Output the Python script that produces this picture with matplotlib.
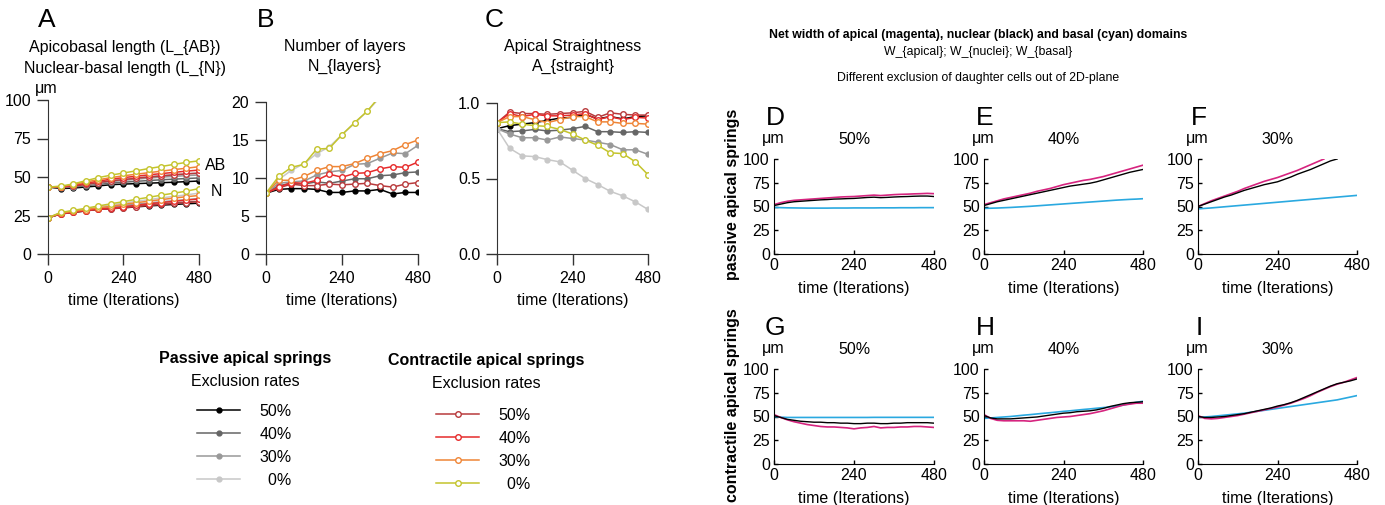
import matplotlib
matplotlib.use("Agg")
import matplotlib.pyplot as plt
from matplotlib.lines import Line2D

plt.rcParams['font.family'] = ['Liberation Sans', 'DejaVu Sans']

W, H = 1385, 505

# ---------------- data: panels A-C (sampled every 40 iterations) ----------------
t = [0, 40, 80, 120, 160, 200, 240, 280, 320, 360, 400, 440, 480]
rates = ['50%', '40%', '30%', '  0%']

passive_colors = ['#000000', '#666666', '#999999', '#c8c8c8']
contract_colors = ['#b83a3c', '#e62b2b', '#ef8536', '#c4c42c']

# apicobasal length L_AB
ab_passive = [
    [43.5, 42.5, 42.8, 43.5, 44.2, 45.0, 45.4, 45.7, 46.0, 46.3, 46.6, 47.0, 47.4],
    [43.5, 43.0, 43.5, 44.3, 45.2, 46.0, 46.6, 47.2, 47.7, 48.2, 48.6, 49.0, 49.4],
    [43.5, 43.2, 43.8, 45.0, 46.0, 47.0, 47.8, 48.6, 49.3, 49.9, 50.4, 50.9, 51.3],
    [43.5, 43.5, 44.3, 45.5, 46.6, 47.8, 48.7, 49.5, 50.3, 51.0, 51.6, 52.2, 52.7],
]
ab_contract = [
    [43.5, 43.3, 44.0, 45.2, 46.4, 47.5, 48.3, 49.2, 50.0, 50.7, 51.4, 52.0, 52.5],
    [43.5, 43.5, 44.5, 46.0, 47.3, 48.6, 49.6, 50.5, 51.4, 52.2, 53.0, 53.8, 54.5],
    [43.5, 43.8, 45.0, 46.8, 48.2, 49.6, 50.8, 51.8, 52.8, 53.8, 54.8, 55.7, 56.7],
    [43.5, 44.0, 45.5, 47.6, 49.6, 51.2, 52.6, 54.0, 55.5, 56.8, 58.2, 59.5, 60.5],
]
# nuclear-basal length L_N
n_passive = [
    [23.5, 26.0, 27.0, 28.0, 29.0, 29.5, 30.0, 30.6, 31.2, 31.7, 32.2, 32.6, 33.0],
    [23.5, 26.2, 27.3, 28.3, 29.3, 30.0, 30.7, 31.4, 32.0, 32.6, 33.2, 33.7, 34.2],
    [23.5, 26.4, 27.6, 28.6, 29.7, 30.6, 31.5, 32.3, 33.1, 33.9, 34.6, 35.3, 36.0],
    [23.5, 26.8, 28.0, 29.2, 30.6, 31.8, 33.0, 34.2, 35.3, 36.4, 37.4, 38.4, 39.5],
]
n_contract = [
    [23.5, 26.0, 27.0, 28.0, 29.0, 29.3, 30.0, 30.8, 31.5, 32.2, 32.8, 33.4, 34.0],
    [23.5, 26.2, 27.2, 28.2, 29.2, 29.8, 30.6, 31.6, 32.6, 33.4, 34.2, 35.0, 35.7],
    [23.5, 26.5, 27.7, 28.8, 30.0, 31.0, 32.2, 33.3, 34.3, 35.3, 36.3, 37.2, 38.0],
    [23.5, 27.0, 28.3, 29.7, 31.2, 32.6, 34.0, 35.5, 36.8, 38.2, 39.5, 40.8, 42.5],
]
# number of layers
layers_passive = [
    [8.0, 8.5, 8.6, 8.6, 8.5, 8.1, 8.1, 8.3, 8.3, 8.5, 7.9, 8.1, 8.1],
    [8.0, 9.0, 9.3, 9.2, 9.5, 9.3, 9.6, 9.9, 9.9, 10.3, 10.4, 10.7, 10.8],
    [8.0, 9.3, 9.5, 9.6, 10.4, 10.8, 11.0, 11.8, 11.9, 12.6, 13.3, 13.2, 14.3],
    [8.0, 9.8, 11.0, 11.9, 13.2, 14.1, 15.7, 17.2, 18.8, 20.6, 22.2, 23.8, 25.3],
]
layers_contract = [
    [8.0, 8.7, 9.2, 9.0, 9.0, 9.2, 9.1, 9.2, 9.3, 9.0, 8.8, 9.2, 9.4],
    [8.0, 8.8, 9.4, 9.3, 9.7, 10.5, 10.1, 10.6, 10.7, 11.2, 11.5, 11.4, 12.1],
    [8.0, 9.7, 9.7, 10.2, 11.0, 11.5, 11.5, 11.9, 12.6, 13.2, 13.6, 14.4, 15.0],
    [8.0, 10.2, 11.4, 11.8, 13.8, 13.9, 15.7, 17.3, 18.8, 20.8, 22.5, 24.0, 25.5],
]
# apical straightness
straight_passive = [
    [0.83, 0.85, 0.86, 0.87, 0.885, 0.90, 0.905, 0.925, 0.895, 0.91, 0.895, 0.91, 0.915],
    [0.83, 0.81, 0.815, 0.825, 0.815, 0.82, 0.83, 0.845, 0.81, 0.81, 0.805, 0.81, 0.805],
    [0.83, 0.795, 0.77, 0.77, 0.755, 0.775, 0.765, 0.755, 0.74, 0.725, 0.69, 0.69, 0.66],
    [0.83, 0.70, 0.65, 0.645, 0.625, 0.61, 0.555, 0.50, 0.46, 0.415, 0.385, 0.345, 0.295],
]
straight_contract = [
    [0.87, 0.94, 0.93, 0.93, 0.925, 0.93, 0.935, 0.945, 0.905, 0.935, 0.925, 0.92, 0.92],
    [0.87, 0.93, 0.91, 0.925, 0.915, 0.915, 0.92, 0.93, 0.89, 0.91, 0.89, 0.905, 0.90],
    [0.87, 0.91, 0.91, 0.89, 0.87, 0.89, 0.91, 0.91, 0.875, 0.875, 0.865, 0.865, 0.86],
    [0.87, 0.875, 0.86, 0.85, 0.845, 0.825, 0.795, 0.755, 0.72, 0.67, 0.665, 0.61, 0.525],
]

# ---------------- data: panels D-I (sampled every 20 iterations) ----------------
t_fine = list(range(0, 481, 20))
width_colors = {'apical': '#d6247f', 'nuclei': '#000000', 'basal': '#2aa9e0'}

D_apical = [52, 54, 55.5, 56.5, 57, 57.5, 58, 58.5, 59, 59.5, 60, 60.3, 60.5, 61, 61.5, 62, 61.5, 62, 62.5, 62.8, 63, 63.3, 63.5, 63.8, 63.5]
D_nuclei = [51, 52.5, 54, 55, 55.5, 56, 56.5, 57, 57.3, 57.8, 58, 58.3, 58.5, 59, 59.5, 59.8, 59.3, 59.6, 60, 60.3, 60.5, 60.8, 61, 61, 60.5]
D_basal = [49, 48.8, 48.6, 48.5, 48.4, 48.3, 48.3, 48.3, 48.3, 48.4, 48.4, 48.4, 48.5, 48.5, 48.5, 48.5, 48.6, 48.6, 48.6, 48.7, 48.7, 48.7, 48.8, 48.8, 48.8]

E_apical = [52, 54, 56, 58, 59.5, 61, 62.5, 64, 66, 67.5, 69, 71, 73, 74.5, 76, 77.5, 78.5, 80, 81.5, 83.5, 85.5, 87.5, 89.5, 91.5, 93.5]
E_nuclei = [51, 53, 55, 56.5, 58, 59.5, 61, 62.5, 64, 65.5, 67, 68.5, 70, 71.5, 72.5, 73.5, 74.5, 76, 78, 80, 82, 84, 86, 87.5, 89]
E_basal = [48, 48.2, 48.4, 48.7, 49, 49.4, 49.8, 50.2, 50.7, 51.2, 51.7, 52.2, 52.7, 53.2, 53.7, 54.2, 54.7, 55.2, 55.7, 56.2, 56.7, 57.1, 57.5, 57.8, 58.2]

F_apical = [50, 53, 56, 58.5, 61, 63.5, 66, 69, 71.5, 74, 76.5, 78.5, 80.5, 83, 85.5, 88, 91, 94, 97, 100]
F_nuclei = [50, 52.5, 55, 57.5, 60, 62, 64.5, 67, 69, 71, 73, 74.5, 76, 78.5, 81, 84, 86.5, 89, 92, 95, 98, 100]
F_basal = [47.5, 48, 48.5, 49.1, 49.7, 50.3, 50.9, 51.5, 52.1, 52.7, 53.3, 53.9, 54.5, 55.1, 55.7, 56.3, 56.9, 57.5, 58.1, 58.7, 59.3, 59.9, 60.5, 61.1, 61.7]

G_apical = [52, 49, 46.5, 44.5, 43, 41.5, 40.5, 39.5, 39, 39, 38.5, 38, 37, 38, 38.5, 39.5, 38, 38.5, 38.5, 39, 39, 39.5, 39.5, 39, 38.5]
G_nuclei = [51, 49, 47, 46, 45, 44.5, 44, 44, 43.5, 43.5, 43, 43, 42.5, 42.5, 43, 43, 42.5, 42.5, 43, 43, 43.5, 43.5, 43.5, 43.5, 43]
G_basal = [50, 49.3, 49, 49, 49, 49, 49, 49, 49, 49, 49, 49, 49, 49, 49, 49.1, 49.1, 49.1, 49.1, 49.1, 49.1, 49.1, 49.1, 49.1, 49.1]

H_apical = [52, 48, 46, 45.5, 45.5, 45.5, 45.5, 45, 46, 47, 48, 49, 49.5, 50, 51, 52, 53, 54.5, 56, 58, 60, 62, 63, 64, 64]
H_nuclei = [51, 48.5, 47.5, 47.5, 47.5, 48, 48.5, 49, 49.5, 50.5, 51.5, 52.5, 53.5, 54, 55, 55.5, 56, 57, 58.5, 60.5, 62, 63.5, 64.5, 65, 65.5]
H_basal = [48, 48.5, 49, 49.5, 50, 50.7, 51.4, 52, 52.7, 53.4, 54, 54.7, 55.4, 56, 56.7, 57.4, 58, 58.7, 59.4, 60, 61, 62, 63.5, 65, 66]

I_apical = [51, 48, 47.5, 48, 49, 50, 51, 52.5, 54, 55.5, 57, 58.5, 60, 62, 64, 66.5, 69, 72, 75.5, 78.5, 81.5, 84, 86, 88.5, 91]
I_nuclei = [50, 49, 49, 49.5, 50, 51, 52, 53, 54.5, 56, 57.5, 59, 61, 62.5, 64.5, 67, 70, 73, 76, 79, 82, 84.5, 86, 87.5, 89.5]
I_basal = [49, 49.5, 50, 50.7, 51.4, 52.1, 52.8, 53.5, 54.5, 55.5, 56.5, 57.5, 58.5, 59.5, 60.5, 61.5, 62.5, 63.5, 64.5, 65.5, 66.5, 67.5, 69, 70.5, 72]


def box(x0, y0, x1, y1):
    return [x0 / W, 1 - y1 / H, (x1 - x0) / W, (y1 - y0) / H]


def ftext(x, y, s, **kw):
    kw.setdefault('ha', 'center')
    kw.setdefault('va', 'center')
    fig.text(x / W, 1 - y / H, s, **kw)


def style_left(ax, yticks, ylabels):
    for s in ['top', 'right']:
        ax.spines[s].set_visible(False)
    for s in ['left', 'bottom']:
        ax.spines[s].set_color('#333333')
    ax.set_xlim(0, 480)
    ax.set_xticks([0, 240, 480])
    ax.set_yticks(yticks)
    ax.set_yticklabels(ylabels)
    ax.tick_params(direction='out', length=8, width=1, labelsize=11.5, pad=4, color='#333333')
    ax.set_xlabel('time (Iterations)', fontsize=11.5, labelpad=5)


def draw_series(ax, passive, contract):
    for ys, c in zip(passive, passive_colors):
        ax.plot(t, ys, '-o', color=c, lw=1.1, ms=3.5, mec=c, mfc=c)
    for ys, c in zip(contract, contract_colors):
        ax.plot(t, ys, '-o', color=c, lw=1.1, ms=4, mec=c, mfc='white', mew=1)


fig = plt.figure(figsize=(W / 100, H / 100), dpi=100)

# ---- A ----
axA = fig.add_axes(box(48, 100, 199, 254))
for ys, c in zip(ab_passive, passive_colors):
    axA.plot(t, ys, '-o', color=c, lw=1.1, ms=3.5, mfc=c, mec=c)
for ys, c in zip(ab_contract, contract_colors):
    axA.plot(t, ys, '-o', color=c, lw=1.1, ms=4, mfc='white', mec=c, mew=1)
for ys, c in zip(n_passive, passive_colors):
    axA.plot(t, ys, '-o', color=c, lw=1.1, ms=3.5, mfc=c, mec=c)
for ys, c in zip(n_contract, contract_colors):
    axA.plot(t, ys, '-o', color=c, lw=1.1, ms=4, mfc='white', mec=c, mew=1)
axA.set_ylim(0, 100)
style_left(axA, [0, 25, 50, 75, 100], ['0', '25', '50', '75', '100'])

# ---- B ----
axB = fig.add_axes(box(266, 102, 418, 254))
draw_series(axB, layers_passive, layers_contract)
axB.set_ylim(0, 20)
style_left(axB, [0, 5, 10, 15, 20], ['0', '5', '10', '15', '20'])

# ---- C ----
axC = fig.add_axes(box(497, 103, 648, 254))
draw_series(axC, straight_passive, straight_contract)
axC.set_ylim(0, 1.0)
style_left(axC, [0, 0.5, 1.0], ['0.0', '0.5', '1.0'])

# headings for A-C
ftext(47, 20, 'A', fontsize=19)
ftext(266, 20, 'B', fontsize=19)
ftext(494, 20, 'C', fontsize=19)
ftext(125, 47, 'Apicobasal length (L_{AB})', fontsize=11.5)
ftext(125, 68, 'Nuclear-basal length (L_{N})', fontsize=11.5)
ftext(46, 89, 'μm', fontsize=11.5)
ftext(345, 47, 'Number of layers', fontsize=11.5)
ftext(345, 66, 'N_{layers}', fontsize=11.5)
ftext(573, 47, 'Apical Straightness', fontsize=11.5)
ftext(573, 66, 'A_{straight}', fontsize=11.5)
ftext(216, 165, 'AB', fontsize=11.5)
ftext(216, 192, 'N', fontsize=11.5)

# ---- legends ----
ftext(245, 359, 'Passive apical springs', fontsize=11.5, fontweight='bold')
ftext(245, 381, 'Exclusion rates', fontsize=11.5)
ftext(486, 361, 'Contractile apical springs', fontsize=11.5, fontweight='bold')
ftext(486, 383, 'Exclusion rates', fontsize=11.5)

h_passive = [Line2D([], [], color=c, lw=1.1, marker='o', ms=3.5, mfc=c, mec=c) for c in passive_colors]
h_contract = [Line2D([], [], color=c, lw=1.1, marker='o', ms=4, mfc='white', mec=c) for c in contract_colors]
fig.legend(h_passive, rates, loc='upper left', bbox_to_anchor=(197 / W, 1 - 404 / H),
           frameon=False, fontsize=11.5, handlelength=2.7, handletextpad=1.2, labelspacing=0.5,
           borderaxespad=0, borderpad=0)
fig.legend(h_contract, rates, loc='upper left', bbox_to_anchor=(436 / W, 1 - 408 / H),
           frameon=False, fontsize=11.5, handlelength=2.7, handletextpad=1.2, labelspacing=0.5,
           borderaxespad=0, borderpad=0)

# ---- right block: D-I ----
ftext(978, 35, 'Net width of apical (magenta), nuclear (black) and basal (cyan) domains',
      fontsize=8.8, fontweight='bold')
ftext(978, 52, 'W_{apical}; W_{nuclei}; W_{basal}', fontsize=8.8)
ftext(978, 78, 'Different exclusion of daughter cells out of 2D-plane', fontsize=8.8)

ftext(733, 194, 'passive apical springs', fontsize=11.5, fontweight='bold', rotation=90)
ftext(733, 405, 'contractile apical springs', fontsize=11.5, fontweight='bold', rotation=90)

panels = [
    ('D', '50%', (774, 159, 934, 254), D_apical, D_nuclei, D_basal),
    ('E', '40%', (984, 159, 1143, 254), E_apical, E_nuclei, E_basal),
    ('F', '30%', (1198, 159, 1357, 254), F_apical, F_nuclei, F_basal),
    ('G', '50%', (774, 369, 934, 464), G_apical, G_nuclei, G_basal),
    ('H', '40%', (984, 369, 1143, 464), H_apical, H_nuclei, H_basal),
    ('I', '30%', (1198, 369, 1357, 464), I_apical, I_nuclei, I_basal),
]

for letter, pct, (x0, y0, x1, y1), ap, nu, ba in panels:
    ax = fig.add_axes(box(x0, y0, x1, y1))
    ax.plot(t_fine[:len(ba)], ba, color=width_colors['basal'], lw=1.2)
    ax.plot(t_fine[:len(ap)], ap, color=width_colors['apical'], lw=1.2)
    ax.plot(t_fine[:len(nu)], nu, color=width_colors['nuclei'], lw=1.0)
    ax.set_xlim(0, 480)
    ax.set_ylim(0, 100)
    ax.set_xticks([0, 240, 480])
    ax.set_yticks([0, 25, 50, 75, 100])
    for s in ['top', 'right']:
        ax.spines[s].set_visible(False)
    ax.tick_params(direction='in', length=3, width=1, labelsize=11.5, pad=3)
    ax.set_xlabel('time (Iterations)', fontsize=11.5, labelpad=6)
    ftext(x0 + 1, y0 - 41, letter, fontsize=19)
    ftext(x0 - 1, y0 - 20, 'μm', fontsize=11.5)
    ftext((x0 + x1) / 2, y0 - 20, pct, fontsize=11.5)

fig.savefig('out.png', dpi=100)
